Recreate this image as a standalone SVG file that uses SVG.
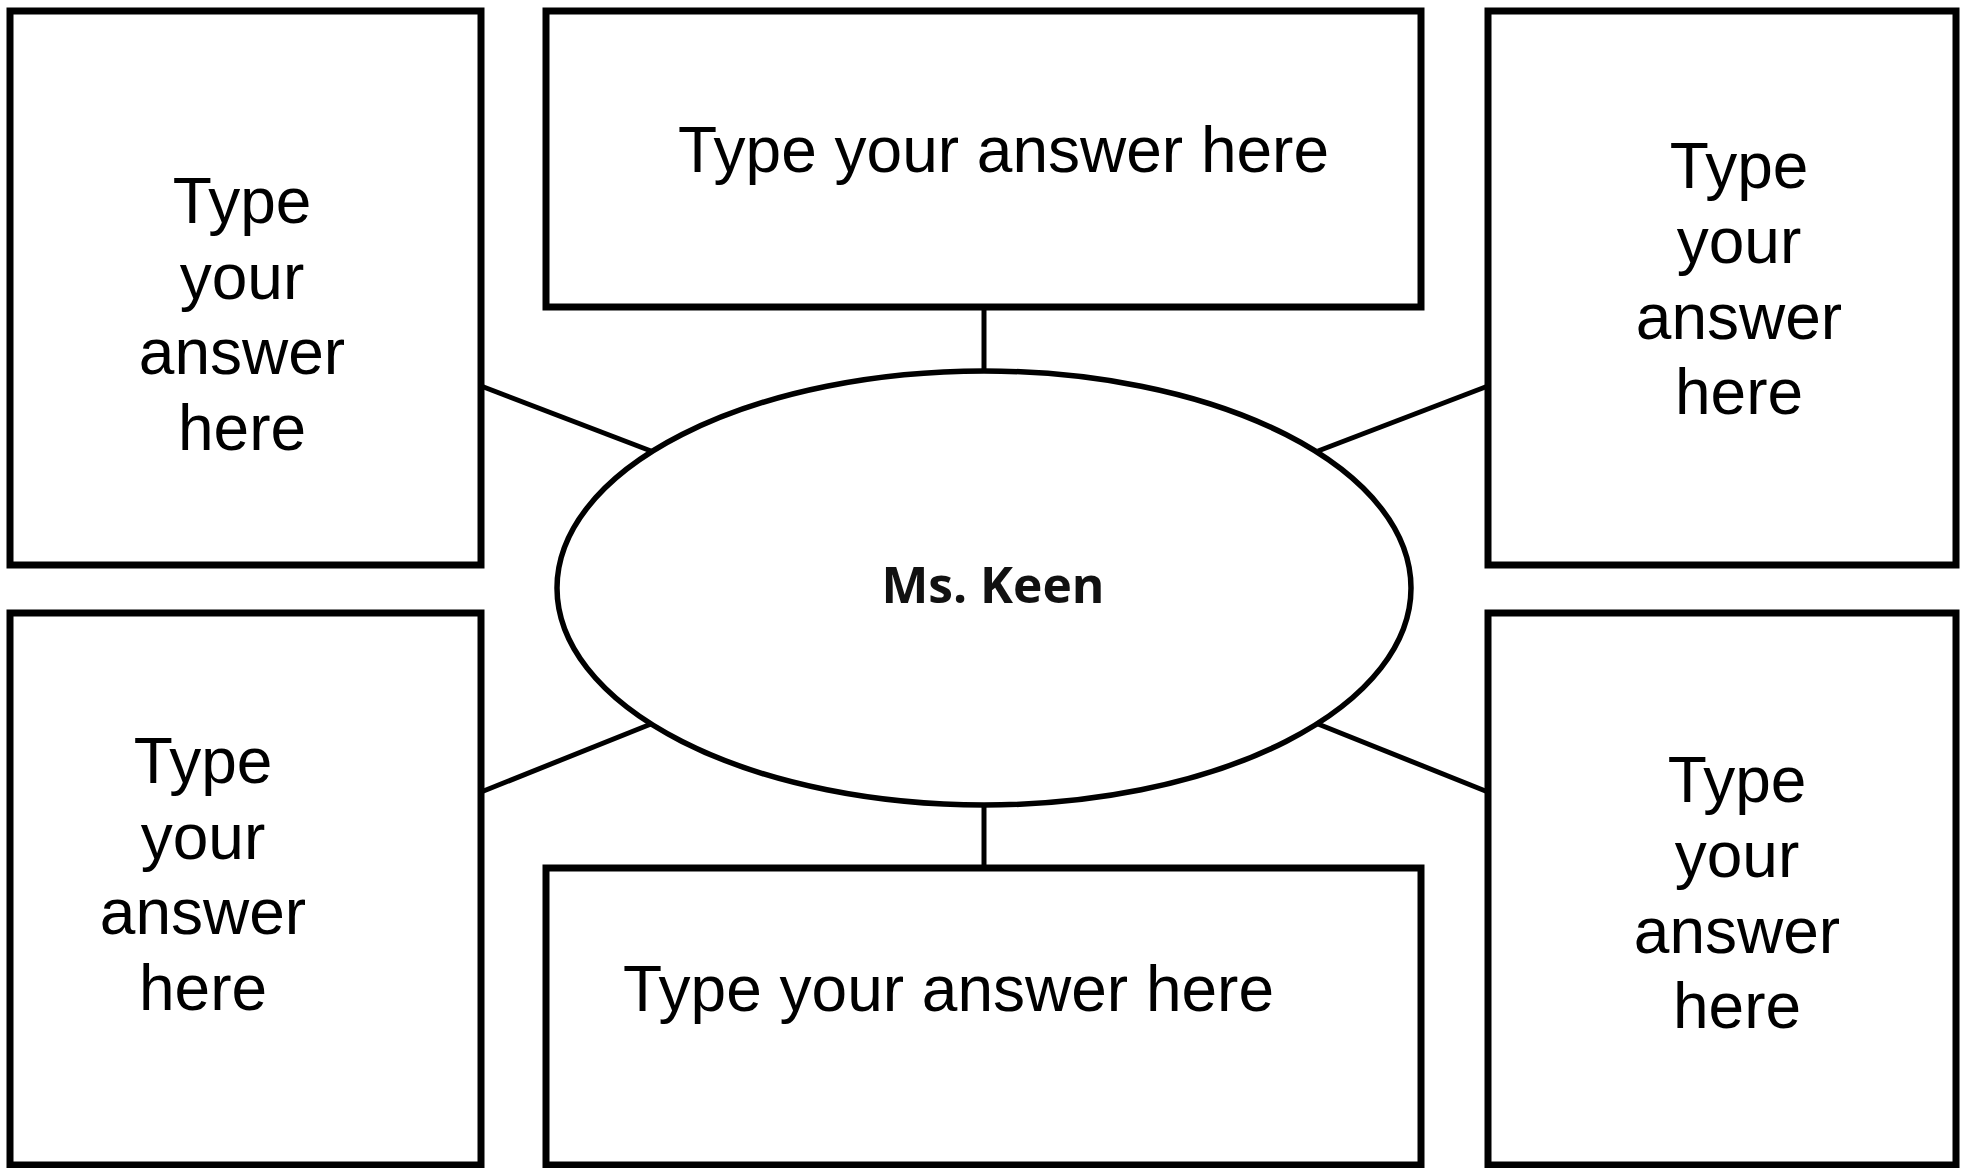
<svg xmlns="http://www.w3.org/2000/svg" width="1965" height="1168" viewBox="0 0 1965 1168">
<style>
.box{fill:#fff;stroke:#000;stroke-width:7}
.hub{fill:#fff;stroke:#000;stroke-width:5.5}
.con line{stroke:#000;stroke-width:5}
.t{font-family:"Liberation Sans",Arial,sans-serif;font-size:64px;fill:#000}
.c{text-anchor:middle}
.k{font-family:"Open Sans",sans-serif;font-weight:bold;font-size:51px;fill:#111;text-anchor:middle}
</style>
<rect width="1965" height="1168" fill="#fff"/>
<g id="connectors" class="con">
<line x1="984" y1="307" x2="984" y2="372"/>
<line x1="984" y1="805" x2="984" y2="868"/>
<line x1="481" y1="386" x2="651" y2="451"/>
<line x1="1488" y1="386" x2="1318" y2="451"/>
<line x1="481" y1="792" x2="651" y2="724"/>
<line x1="1488" y1="792" x2="1318" y2="724"/>
</g>
<g id="node-tl">
<rect class="box" x="10" y="11" width="471" height="554"/>
<text class="t c" x="242"><tspan x="242" y="223">Type</tspan><tspan x="242" y="299">your</tspan><tspan x="242" y="374">answer</tspan><tspan x="242" y="450">here</tspan></text>
</g>
<g id="node-tm">
<rect class="box" x="546" y="11" width="875" height="296"/>
<text class="t" x="678" y="172">Type your answer here</text>
</g>
<g id="node-tr">
<rect class="box" x="1488" y="11" width="468" height="554"/>
<text class="t c" x="1739"><tspan x="1739" y="188">Type</tspan><tspan x="1739" y="263">your</tspan><tspan x="1739" y="339">answer</tspan><tspan x="1739" y="414">here</tspan></text>
</g>
<g id="node-bl">
<rect class="box" x="10" y="613" width="471" height="552"/>
<text class="t c" x="203"><tspan x="203" y="783">Type</tspan><tspan x="203" y="859">your</tspan><tspan x="203" y="934">answer</tspan><tspan x="203" y="1010">here</tspan></text>
</g>
<g id="node-bm">
<rect class="box" x="546" y="868" width="875" height="297"/>
<text class="t" x="623" y="1011">Type your answer here</text>
</g>
<g id="node-br">
<rect class="box" x="1488" y="613" width="468" height="552"/>
<text class="t c" x="1737"><tspan x="1737" y="802">Type</tspan><tspan x="1737" y="877">your</tspan><tspan x="1737" y="953">answer</tspan><tspan x="1737" y="1028">here</tspan></text>
</g>
<g id="node-center">
<ellipse class="hub" cx="984" cy="588" rx="427" ry="217"/>
<text class="k" x="993" y="603" textLength="223" lengthAdjust="spacingAndGlyphs">Ms. Keen</text>
</g>
</svg>
